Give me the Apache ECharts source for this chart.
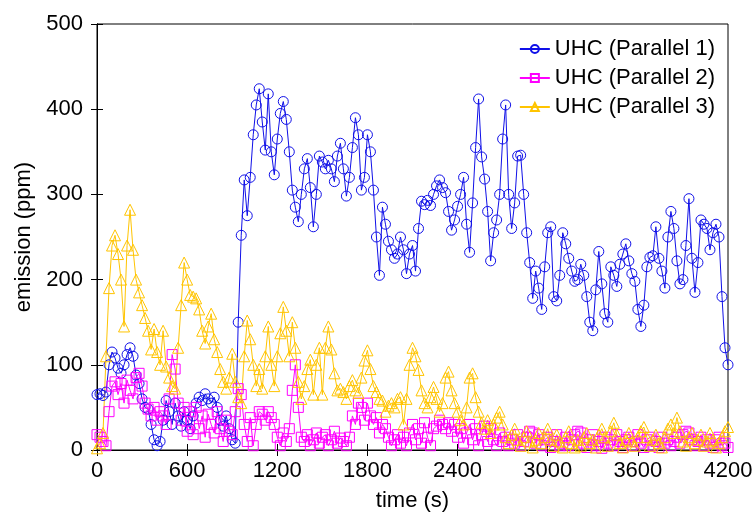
<!DOCTYPE html>
<html>
<head>
<meta charset="utf-8">
<script src="https://cdn.jsdelivr.net/npm/echarts@6/dist/echarts.min.js"></script>
<style>
html, body { margin: 0; padding: 0; background: #fff; }
#chart { width: 756px; height: 518px; }
</style>
</head>
<body>
<div id="chart"></div>
<script>
// sample spacing of the readings, seconds
const step = 20

const xTicks = [0, 600, 1200, 1800, 2400, 3000, 3600, 4200]
const seriesNames = ['UHC (Parallel 1)', 'UHC (Parallel 2)', 'UHC (Parallel 3)']

// UHC emission (ppm), one value every 20 s from 0 to 4200 s
const parallel1 = [
  65, 66, 64, 68, 100, 115, 108, 96, 90, 100, 112, 120, 110, 88, 78, 60, 50, 48, 30, 12,
  5, 10, 35, 58, 45, 30, 55, 40, 28, 45, 35, 25, 40, 55, 62, 58, 66, 60, 55, 62,
  50, 35, 28, 40, 25, 12, 8, 150, 252, 317, 275, 320, 370, 405, 424, 385, 352, 418, 350, 323,
  365, 395, 409, 388, 350, 305, 285, 268, 300, 330, 342, 308, 262, 300, 345, 338, 330, 340, 330, 315,
  345, 360, 330, 298, 320, 355, 390, 370, 305, 320, 370, 350, 305, 250, 205, 285, 265, 245, 235, 225,
  230, 250, 235, 207, 230, 240, 210, 260, 292, 288, 293, 287, 300, 310, 317, 308, 302, 280, 258, 270,
  286, 300, 320, 265, 232, 290, 355, 412, 344, 318, 280, 222, 255, 270, 300, 365, 405, 300, 260, 290,
  345, 346, 300, 255, 220, 178, 210, 190, 165, 215, 255, 262, 180, 175, 205, 255, 242, 225, 210, 198,
  200, 218, 205, 180, 150, 140, 188, 233, 195, 160, 150, 215, 205, 192, 218, 230, 242, 222, 207, 198,
  165, 145, 170, 215, 226, 228, 262, 225, 210, 190, 250, 280, 260, 222, 195, 200, 240, 295, 225, 185,
  220, 270, 265, 260, 235, 255, 265, 250, 180, 120, 100
]
const parallel2 = [
  18, 15, 10, 5, 45, 75, 80, 65, 78, 55, 82, 70, 60, 85, 90, 75, 55, 48, 40, 50,
  35, 45, 40, 30, 60, 112, 95, 55, 35, 50, 22, 45, 18, 50, 25, 40, 15, 42, 30, 20,
  45, 25, 10, 35, 22, 18, 45, 72, 65, 30, 10, 38, 5, 30, 45, 42, 35, 45, 38, 30,
  15, 5, 20, 10, 25, 70, 100, 50, 15, 10, 18, 5, 12, 20, 8, 15, 18, 5, 12, 22,
  8, 14, 10, 5, 15, 40, 30, 55, 50, 35, 55, 40, 30, 38, 20, 30, 25, 15, 5, 12,
  18, 8, 15, 5, 20, 30, 12, 25, 8, 32, 15, 5, 25, 28, 35, 30, 25, 32, 22, 30,
  15, 25, 8, 20, 30, 12, 25, 5, 18, 28, 10, 25, 12, 5, 20, 10, 15, 5, 12, 8,
  18, 5, 10, 15, 22, 20, 8, 18, 5, 12, 15, 3, 10, 18, 5, 8, 15, 5, 12, 18,
  22, 20, 8, 3, 12, 18, 5, 10, 2, 15, 8, 12, 5, 18, 10, 3, 12, 15, 5, 10,
  18, 8, 3, 12, 15, 5, 10, 3, 15, 8, 12, 5, 10, 15, 8, 18, 22, 20, 12, 5,
  10, 15, 5, 12, 8, 3, 12, 15, 5, 8, 3
]
const parallel3 = [
  2, 8, 20, 110, 190, 240, 252, 230, 200, 145, 240, 282, 235, 200, 185, 170, 155, 140, 118, 142,
  115, 100, 140, 98, 85, 75, 72, 120, 170, 220, 200, 182, 180, 178, 165, 140, 125, 145, 160, 130,
  115, 95, 80, 72, 85, 113, 80, 62, 55, 110, 152, 130, 100, 75, 95, 72, 110, 145, 100, 75,
  110, 137, 168, 140, 110, 150, 120, 80, 60, 75, 95, 106, 65, 100, 120, 65, 120, 145, 118, 90,
  70, 72, 68, 60, 75, 82, 70, 67, 85, 105, 117, 95, 75, 68, 60, 58, 45, 52, 55, 50,
  60, 62, 30, 60, 100, 120, 110, 94, 70, 55, 50, 62, 74, 60, 45, 55, 85, 92, 70, 55,
  45, 35, 30, 50, 85, 90, 62, 45, 32, 25, 35, 20, 30, 38, 45, 30, 15, 8, 18, 25,
  12, 5, 15, 22, 10, 3, 12, 20, 8, 15, 25, 12, 5, 18, 10, 3, 15, 22, 8, 3,
  12, 5, 15, 20, 8, 12, 3, 18, 25, 15, 5, 22, 32, 18, 8, 3, 12, 20, 10, 5,
  15, 22, 27, 15, 5, 12, 18, 8, 3, 15, 25, 30, 20, 38, 22, 10, 5, 15, 20, 8,
  12, 18, 5, 10, 20, 12, 3, 8, 15, 22, 27
]

function pairs (vals) {
  return vals.map((v, i) => [i * step, v])
}

const chart = echarts.init(document.getElementById('chart'))
const font = 'Liberation Sans, Arial, sans-serif'

function makeSeries (name, vals, color, symbol, size) {
  return {
    name: name,
    type: 'line',
    data: pairs(vals),
    symbol: symbol,
    symbolSize: size,
    showAllSymbol: true,
    animation: false,
    lineStyle: { color: color, width: 1 },
    itemStyle: { color: 'rgba(255,255,255,0)', borderColor: color, borderWidth: 1 },
    emphasis: { disabled: true }
  }
}

const option = {
  backgroundColor: '#fff',
  animation: false,
  textStyle: { fontFamily: font },
  grid: { left: 97, right: 28, top: 24, bottom: 68, show: true, borderColor: '#000', borderWidth: 1 },
  legend: {
    orient: 'vertical',
    right: 36,
    top: 33,
    itemGap: 7,
    itemWidth: 30,
    itemHeight: 10,
    textStyle: { fontSize: 22, color: '#000', fontFamily: font },
    data: seriesNames
  },
  xAxis: [{
    type: 'value',
    min: 0,
    max: 4200,
    interval: 600,
    name: 'time (s)',
    nameLocation: 'middle',
    nameGap: 40,
    nameTextStyle: { fontSize: 22, color: '#000' },
    axisLine: { lineStyle: { color: '#000', width: 1 } },
    axisTick: { inside: true, length: 6, lineStyle: { color: '#000' } },
    axisLabel: { fontSize: 22, color: '#000', margin: 10, formatter: v => xTicks.includes(v) ? String(v) : '' },
    splitLine: { show: false }
  }, {
    type: 'value',
    position: 'top',
    min: 0,
    max: 4200,
    interval: 600,
    axisLine: { lineStyle: { color: '#000' } },
    axisTick: { inside: true, length: 6, lineStyle: { color: '#000' } },
    axisLabel: { show: false },
    splitLine: { show: false }
  }],
  yAxis: [{
    type: 'value',
    min: 0,
    max: 500,
    interval: 100,
    name: 'emission (ppm)',
    nameLocation: 'middle',
    nameGap: 58,
    nameTextStyle: { fontSize: 22, color: '#000' },
    axisLine: { show: true, lineStyle: { color: '#000', width: 1 } },
    axisTick: { show: true, inside: true, length: 6, lineStyle: { color: '#000' } },
    axisLabel: { fontSize: 22, color: '#000', margin: 14 },
    splitLine: { show: false }
  }, {
    type: 'value',
    position: 'right',
    min: 0,
    max: 500,
    interval: 100,
    axisLine: { show: true, lineStyle: { color: '#000' } },
    axisTick: { show: true, inside: true, length: 6, lineStyle: { color: '#000' } },
    axisLabel: { show: false },
    splitLine: { show: false }
  }],
  series: [
    makeSeries(seriesNames[0], parallel1, '#1010e8', 'circle', 10),
    makeSeries(seriesNames[1], parallel2, '#ff00ff', 'rect', 10),
    makeSeries(seriesNames[2], parallel3, '#ffc400', 'triangle', 11)
  ]
}

chart.setOption(option)
</script>
</body>
</html>
